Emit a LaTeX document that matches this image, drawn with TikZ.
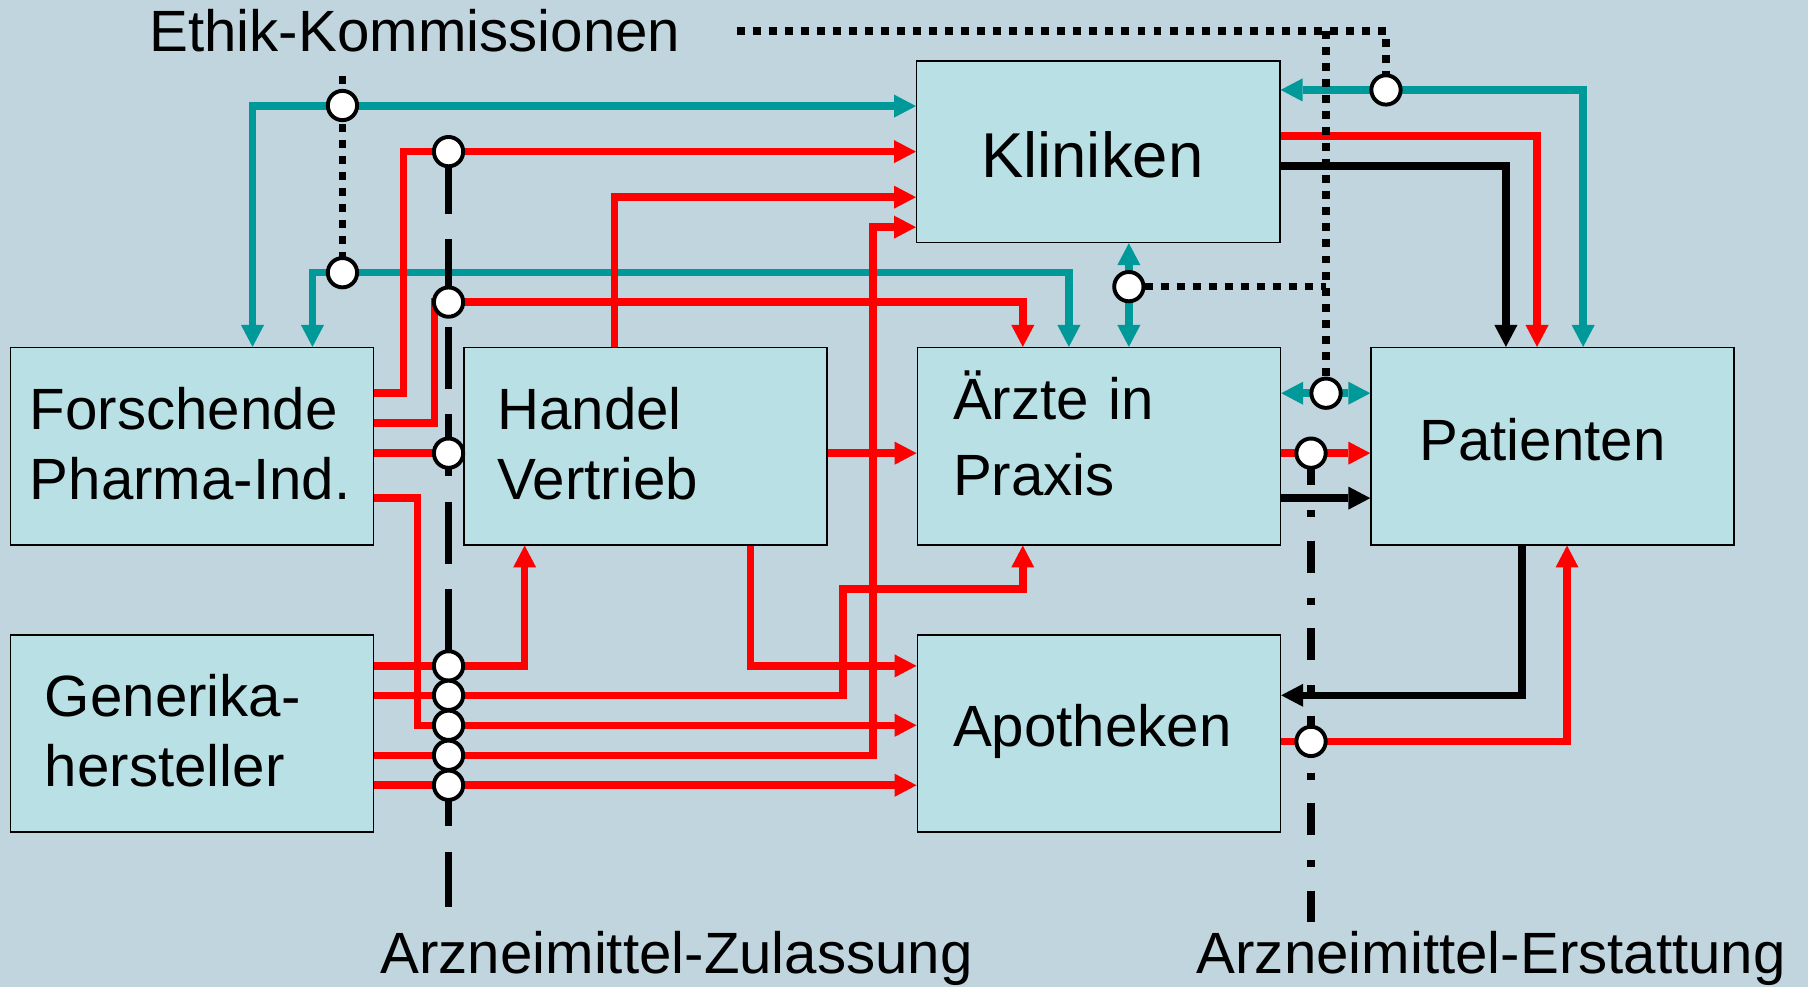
\documentclass[tikz,border=0pt]{standalone}
\usepackage{fontspec}
\setmainfont{Liberation Sans}
\usetikzlibrary{arrows.meta}
\definecolor{bgc}{RGB}{192,213,222}
\definecolor{boxc}{RGB}{185,224,228}
\definecolor{tealc}{RGB}{0,153,153}
\definecolor{redc}{RGB}{255,0,0}
\begin{document}
\begin{tikzpicture}[x=1pt,y=-1pt,
  >={Triangle[length=19pt,width=20pt,line width=0pt]},
  box/.style={draw=black,line width=1.3pt,fill=boxc,minimum width=315pt,minimum height=171pt,
    align=left,text height=0pt,inner ysep=0pt,font=\fontsize{50.5}{61.3}\selectfont},
  tealline/.style={draw=tealc,line width=6.5pt},
  redline/.style={draw=redc,line width=6.5pt},
  blackline/.style={draw=black,line width=6.5pt},
  dotline/.style={draw=black,line width=6.4pt,dash pattern=on 6.9pt off 7pt},
  zulline/.style={draw=black,line width=6.3pt,dash pattern=on 53.8pt off 22.1pt},
  erstline/.style={draw=black,line width=6.5pt,dash pattern=on 27.7pt off 21.7pt on 6pt off 20.5pt},
  ring/.style={circle,draw=black,line width=3.4pt,fill=white,minimum size=25.4pt,inner sep=0pt},
  lbl/.style={anchor=base west,inner sep=0pt,font=\fontsize{50.5}{60}\selectfont},
]
\useasboundingbox (0,0) rectangle (1568,856);
\fill[bgc] (0,0) rectangle (1568,856);

% boxes
\node[box,minimum height=157.5pt,inner xsep=56pt,text width=203pt,text height=45.2pt,text depth=0pt,
  font=\fontsize{55}{66}\selectfont] (K) at (952.5,131.5) {Kliniken};
\node[box,inner xsep=17pt,text width=281pt,text depth=29.4pt] (F) at (166.5,387) {Forschende\\Pharma-Ind.};
\node[box,inner xsep=29pt,text width=257pt,text depth=29.4pt] (H) at (559.75,387) {Handel\\Vertrieb};
\node[box,inner xsep=31pt,text width=253pt,text depth=46.6pt,font=\fontsize{50.5}{65.6}\selectfont] (AE) at (953,387) {Ärzte in\\Praxis};
\node[box,inner xsep=42pt,text width=231pt,text height=24pt,text depth=0pt] (P) at (1346.5,387) {Patienten};
\node[box,inner xsep=30pt,text width=255pt,text depth=29pt,font=\fontsize{50.5}{60.7}\selectfont] (G) at (166.5,636) {Generika-\\hersteller};
\node[box,inner xsep=31pt,text width=253pt,text height=23pt,text depth=0pt] (AP) at (953,636) {Apotheken};

% labels
\node[lbl] (ethik) at (129.5,44.8) {Ethik-Kommissionen};
\node[lbl] (zul) at (329.8,844) {Arzneimittel-Zulassung};
\node[lbl] (erst) at (1037.6,844) {Arzneimittel-Erstattung};

% ring positions and free ends
\coordinate (e1) at (297,91.5);
\coordinate (e2) at (297,236.5);
\coordinate (kr) at (1202,78);
\coordinate (ka) at (979,248.6);
\coordinate (ap) at (1150,341);
\coordinate (z1) at (389,131.5);
\coordinate (z2) at (389,262);
\coordinate (z3) at (389,393);
\coordinate (z4) at (389,577.5);
\coordinate (z5) at (389,603);
\coordinate (z6) at (389,629);
\coordinate (z7) at (389,655);
\coordinate (z8) at (389,681);
\coordinate (s1) at (1137,393);
\coordinate (s2) at (1137,643);
\coordinate (ethtop) at (297,66);
\coordinate (ethleft) at (639,27);
\coordinate (ethjoin) at (1150,27);
\coordinate (zulend) at (389,787);
\coordinate (erstend) at (1137,800);
\coordinate (dotjoin) at (1150,248.6);

% teal connectors
\draw[tealline,<->] (F.north -| 219,0) |- (K.west |- 0,92);
\draw[tealline,<->] (F.north -| 271,0) |- (927,236.5) -- (AE.north -| 927,0);
\draw[tealline,<->] (K.south -| 979,0) -- (AE.north -| 979,0);
\draw[tealline,<->] (P.north -| 1373,0) |- (K.east |- 0,78);
\draw[tealline,<->] (AE.east |- 0,341) -- (P.west |- 0,341);

% red connectors
\draw[redline,->] (F.east |- 0,341) -| (350,131.5) -- (K.west |- 0,131.5);
\draw[redline,->] (F.east |- 0,367) -| (377,262) -| (AE.north -| 887,0);
\draw[redline] (F.east |- 0,393) -- (H.west |- 0,393);
\draw[redline,->] (F.east |- 0,432) -| (362,629) -- (AP.west |- 0,629);
\draw[redline,->] (H.north -| 533,0) |- (K.west |- 0,171);
\draw[redline,->] (H.east |- 0,393) -- (AE.west |- 0,393);
\draw[redline,->] (H.south -| 651,0) |- (AP.west |- 0,577.5);
\draw[redline,->] (G.east |- 0,577.5) -| (H.south -| 455,0);
\draw[redline,->] (G.east |- 0,603) -| (731,511) -| (AE.south -| 887,0);
\draw[redline,->] (G.east |- 0,655) -| (757,197) -- (K.west |- 0,197);
\draw[redline,->] (G.east |- 0,681) -- (AP.west |- 0,681);
\draw[redline,->] (K.east |- 0,118) -| (P.north -| 1333,0);
\draw[redline,->] (AE.east |- 0,393) -- (P.west |- 0,393);
\draw[redline,->] (AP.east |- 0,643) -| (P.south -| 1359,0);

% black connectors
\draw[blackline,->] (K.east |- 0,144) -| (P.north -| 1306,0);
\draw[blackline,->] (AE.east |- 0,432) -- (P.west |- 0,432);
\draw[blackline,->] (P.south -| 1320,0) |- (AP.east |- 0,603);

% regulatory lines
\draw[zulline] (z1) -- (zulend);
\draw[erstline] (s1) -- (erstend);
\draw[dotline] (ethtop) -- (e2);
\draw[dotline] (ethleft) -| (kr);
\draw[dotline] (ethjoin) -- (ap);
\draw[dotline] (ka) -- (dotjoin);

% rings
\foreach \c in {e1,e2,kr,ka,ap,z1,z2,z3,z4,z5,z6,z7,z8,s1,s2}
  \node[ring] (r\c) at (\c) {};
\end{tikzpicture}
\end{document}
